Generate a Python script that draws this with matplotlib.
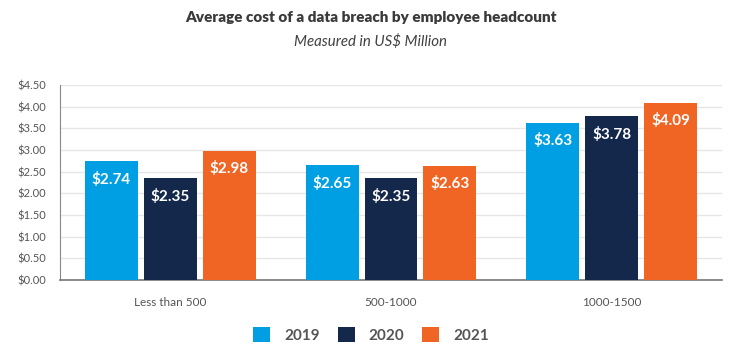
import numpy as np
from matplotlib import pyplot as plt
from matplotlib.patches import Patch

categories = ['Less than 500', '500-1000', '1000-1500']
years = ['2019', '2020', '2021']
cost_2019 = [2.74, 2.65, 3.63]
cost_2020 = [2.35, 2.35, 3.78]
cost_2021 = [2.98, 2.63, 4.09]
colors = ['#009FE3', '#14284B', '#F06424']

plt.rcParams['font.family'] = ['Lato', 'DejaVu Sans']

fig = plt.figure(figsize=(7.42, 3.55), dpi=100)
ax = fig.add_axes([0.0809, 0.2113, 0.973 - 0.0809, 0.7606 - 0.2113])

x = np.arange(len(categories))
width = 0.24
step = 0.267
for i, (vals, c) in enumerate(zip([cost_2019, cost_2020, cost_2021], colors)):
    pos = x + (i - 1) * step
    bars = ax.bar(pos, vals, width=width, color=c, zorder=3)
    for b, v in zip(bars, vals):
        ax.annotate(f'${v:.2f}', (b.get_x() + b.get_width() / 2, v),
                    xytext=(0, -7.5), textcoords='offset points',
                    ha='center', va='top', color='white',
                    fontsize=11, fontweight='bold', zorder=4)

ax.set_xlim(-0.5, 2.5)
ax.set_ylim(0, 4.5)
ax.set_yticks(np.arange(0, 4.51, 0.5))
ax.set_yticklabels([f'${t:.2f}' for t in np.arange(0, 4.51, 0.5)])
ax.set_xticks(x)
ax.set_xticklabels(categories)
ax.tick_params(axis='y', length=0, labelsize=8, labelcolor='#555555', pad=10)
ax.tick_params(axis='x', length=0, labelsize=8.5, labelcolor='#555555', pad=12)
ax.grid(axis='y', color='#E6E6E6', linewidth=1, zorder=0)
for s in ['top', 'right']:
    ax.spines[s].set_visible(False)
ax.spines['left'].set_color('#888888')
ax.spines['bottom'].set_color('#777777')
ax.spines['bottom'].set_linewidth(1.2)

fig.text(0.5, 0.952, 'Average cost of a data breach by employee headcount',
         ha='center', va='center', fontsize=11, fontweight='heavy', color='#3A3A3A')
fig.text(0.5, 0.882, 'Measured in US$ Million', ha='center', va='center',
         fontsize=10.8, style='italic', color='#404040')

handles = [Patch(facecolor=c, edgecolor='none') for c in colors]
fig.legend(handles, years, loc='center', bbox_to_anchor=(0.5, 0.057), ncol=3,
           frameon=False, handlelength=1.1, handleheight=1.1, handletextpad=0.9,
           columnspacing=1.2, prop={'weight': 'bold', 'size': 11},
           labelcolor='#555555')

fig.savefig('out.png', dpi=100)
